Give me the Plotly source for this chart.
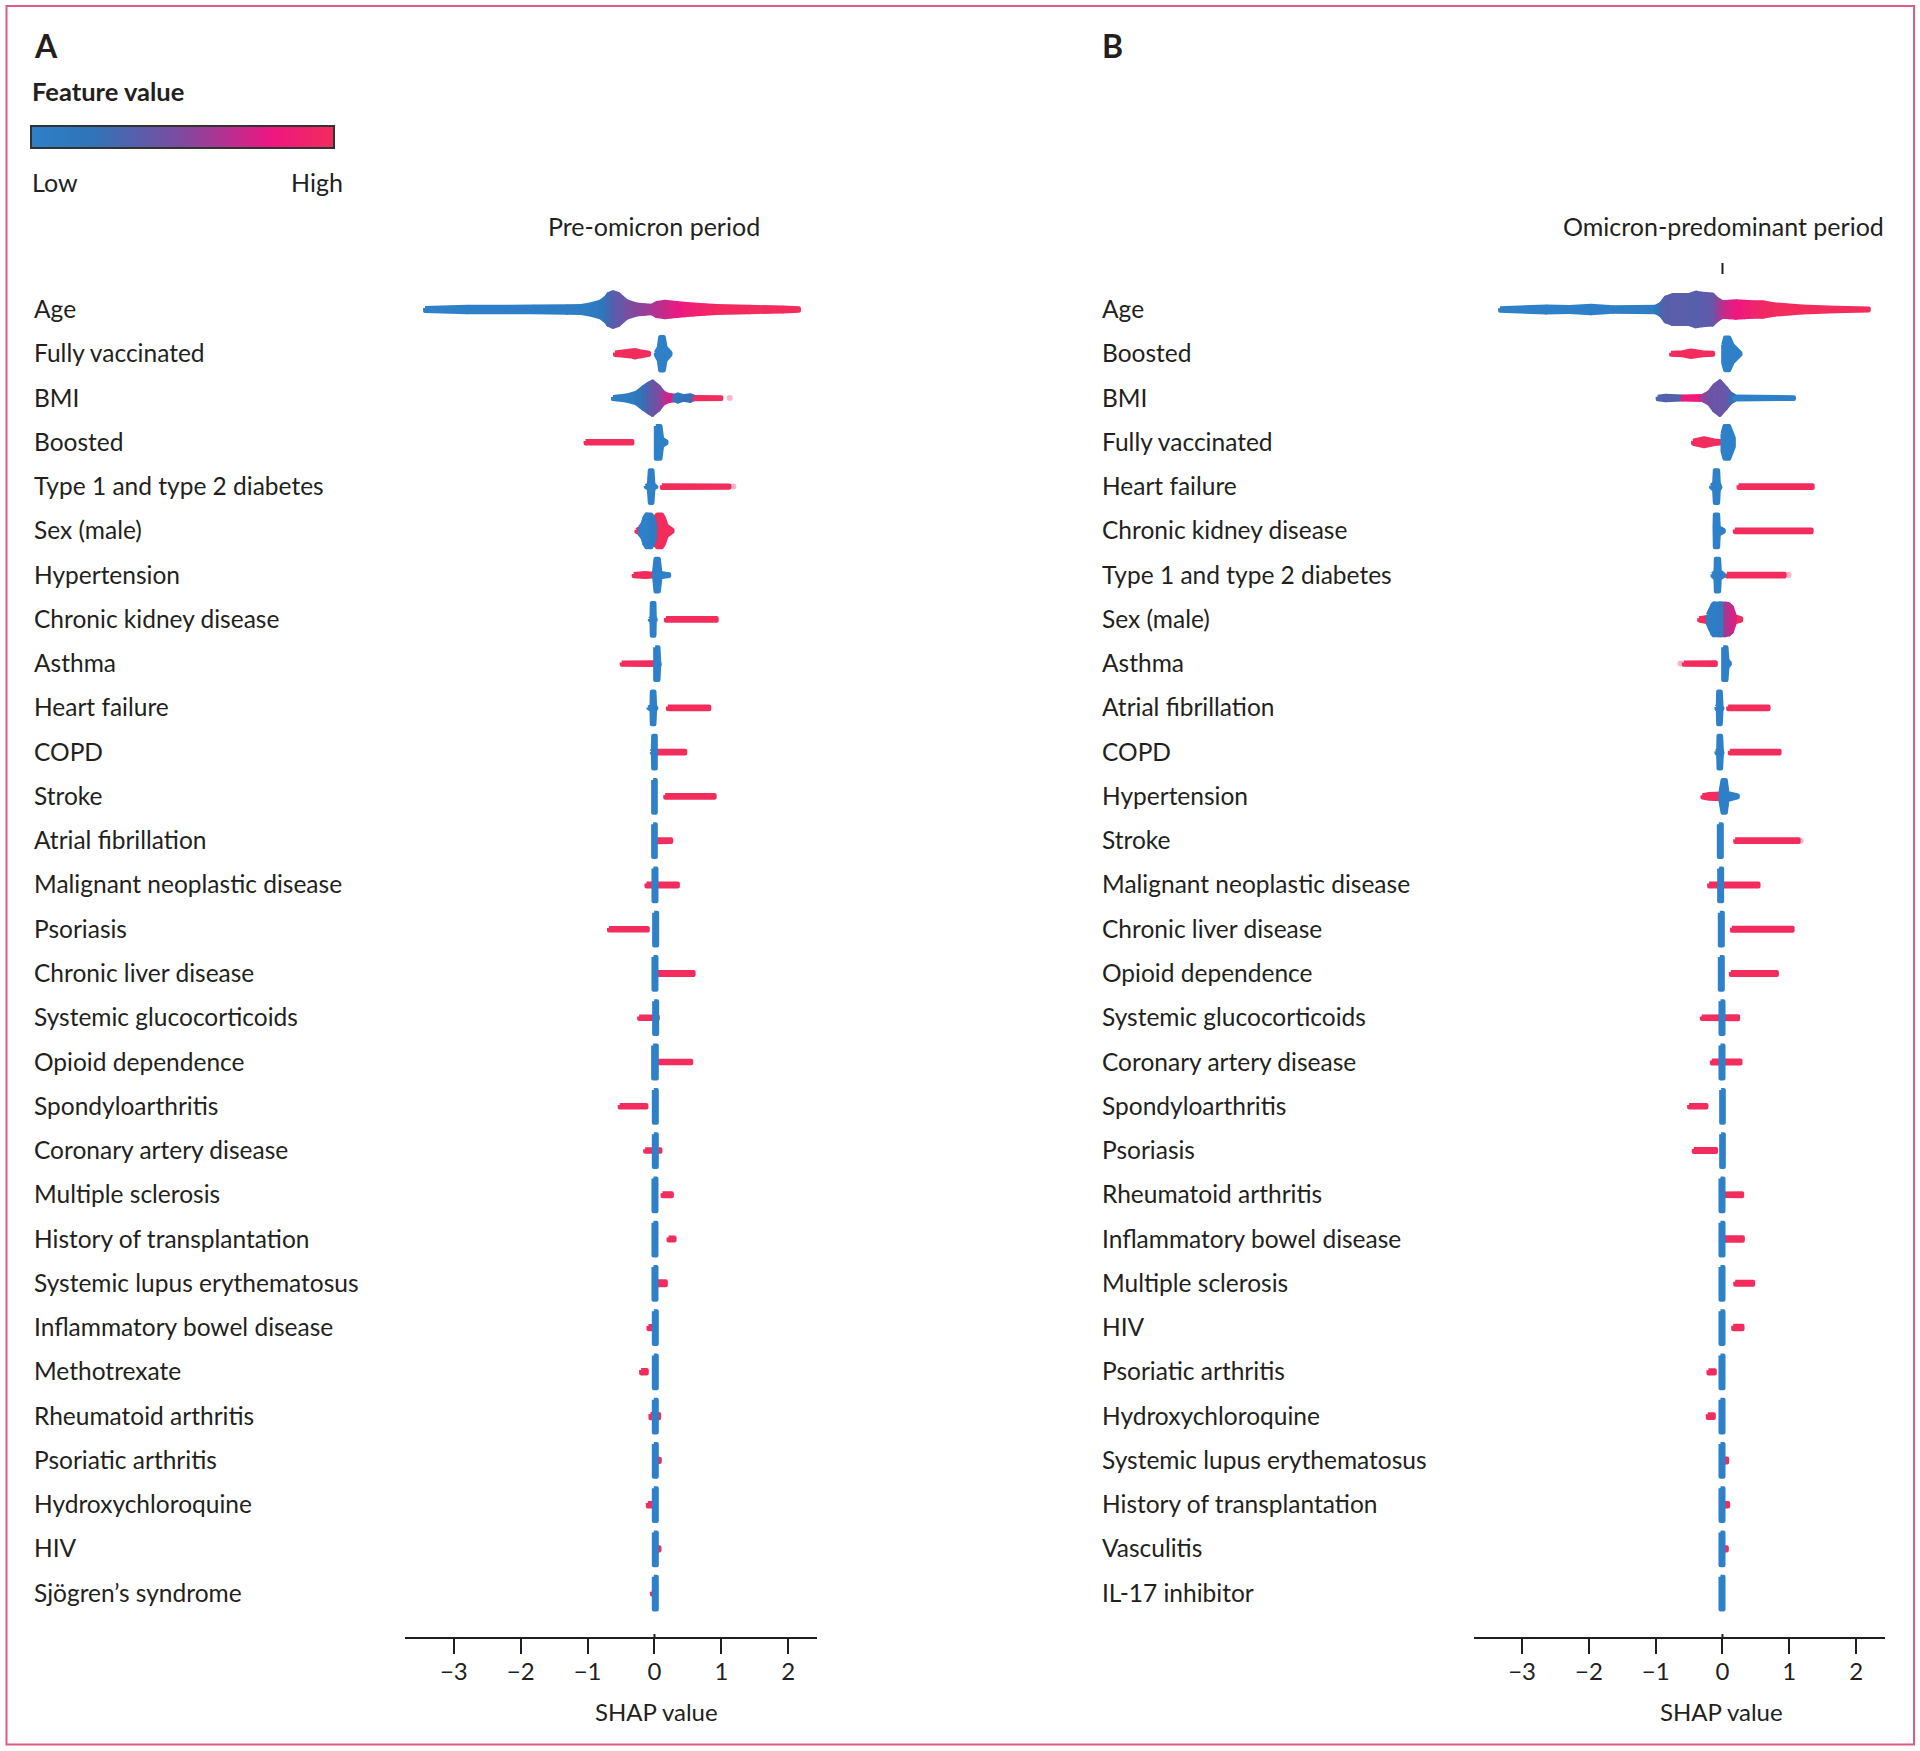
#!/usr/bin/env python3
"""SHAP beeswarm summaries: pre-omicron and omicron-predominant periods."""

import plotly.graph_objects as go
from plotly.colors import sample_colorscale

# Every knot below is (SHAP value, swarm half-height in rows, feature value 0-1),
# read off the picture. A row is a list of stretches, drawn in order.
feature_scale = [[0, "#2e80c8"], [0.2, "#2f74b8"], [0.5, "#7f4a9f"], [0.8, "#ee1780"], [1, "#f22c5c"]]
tick_vals = [-3, -2, -1, 0, 1, 2]
tick_text = ["−3", "−2", "−1", "0", "1", "2"]

features_a = [
    "Age", "Fully vaccinated", "BMI", "Boosted", "Type 1 and type 2 diabetes", "Sex (male)",
    "Hypertension", "Chronic kidney disease", "Asthma", "Heart failure", "COPD", "Stroke",
    "Atrial fibrillation", "Malignant neoplastic disease", "Psoriasis", "Chronic liver disease",
    "Systemic glucocorticoids", "Opioid dependence", "Spondyloarthritis", "Coronary artery disease",
    "Multiple sclerosis", "History of transplantation", "Systemic lupus erythematosus",
    "Inflammatory bowel disease", "Methotrexate", "Rheumatoid arthritis", "Psoriatic arthritis",
    "Hydroxychloroquine", "HIV", "Sjögren’s syndrome",
]

features_b = [
    "Age", "Boosted", "BMI", "Fully vaccinated", "Heart failure", "Chronic kidney disease",
    "Type 1 and type 2 diabetes", "Sex (male)", "Asthma", "Atrial fibrillation", "COPD",
    "Hypertension", "Stroke", "Malignant neoplastic disease", "Chronic liver disease",
    "Opioid dependence", "Systemic glucocorticoids", "Coronary artery disease", "Spondyloarthritis",
    "Psoriasis", "Rheumatoid arthritis", "Inflammatory bowel disease", "Multiple sclerosis", "HIV",
    "Psoriatic arthritis", "Hydroxychloroquine", "Systemic lupus erythematosus",
    "History of transplantation", "Vasculitis", "IL-17 inhibitor",
]

swarm_a = [
    # Age
    [[(-3.43, .035, 0), (-2.8, .06, 0), (-1.81, .065, .02), (-1.31, .075, .03), (-1.1, .08, .04), (-.96, .115, .05),
      (-.81, .175, .12), (-.72, .28, .2), (-.69, .35, .25), (-.62, .39, .32), (-.54, .35, .38), (-.42, .19, .45),
      (-.27, .115, .52), (-.15, .095, .56), (-.04, .085, .6), (.03, .145, .63), (.16, .175, .69),
      (.25, .16, .73), (.33, .145, .77), (.45, .13, .82), (.58, .115, .87), (.75, .095, .92),
      (.93, .08, .97), (1.42, .06, 1), (1.92, .045, 1), (2.16, .03, 1)]],
    # Fully vaccinated
    [[(-.59, .03, 1), (-.5, .04, 1), (-.35, .06, 1), (-.29, .085, 1), (-.22, .06, 1), (-.12, .03, 1), (-.08, .025, 1)],
     [(.02, .03, 0), (.065, .15, 0), (.085, .377, 0), (.14, .377, 0), (.165, .15, 0), (.24, .02, 0)]],
    # BMI
    [[(-.62, .025, .05), (-.42, .055, .05), (-.27, .12, .1), (-.17, .24, .2), (-.09, .325, .3), (-.03, .375, .4),
      (.06, .265, .45), (.13, .13, .55), (.2, .075, .75), (.3, .05, .7)],
     [(.3, .055, .12), (.35, .08, .15), (.43, .04, .2), (.53, .065, .2), (.6, .025, .35)],
     [(.6, .025, 1), (1.0, .02, 1)]],
    # Boosted
    [[(-1.03, .03, 1), (-.33, .03, 1)],
     [(.02, .37, 0), (.09, .37, 0), (.115, .08, 0), (.18, .02, 0)]],
    # Type 1 and type 2 diabetes
    [[(-.13, .01, 0), (-.085, .05, 0), (-.07, .37, 0), (-.03, .37, 0), (-.015, .05, 0), (.03, .01, 0)],
     [(.11, .03, 1), (1.12, .025, 1)]],
    # Sex (male)
    [[(-.27, .02, 1), (-.2, .08, 1)],
     [(.0, .3, 1), (.04, .37, 1), (.11, .37, 1), (.14, .3, 1), (.18, .12, 1), (.27, .02, 1)],
     [(-.22, .08, 0), (-.18, .15, 0), (-.15, .3, 0), (-.12, .37, 0), (-.05, .37, 0), (-.02, .3, .05), (.01, .15, .15)]],
    # Hypertension
    [[(-.31, .025, 1), (-.14, .045, 1), (.02, .025, 1)],
     [(-.01, .03, 0), (.015, .37, 0), (.065, .37, 0), (.09, .05, 0), (.22, .02, 0)]],
    # Chronic kidney disease
    [[(.17, .03, 1), (.93, .03, 1)],
     [(-.07, .01, 0), (-.045, .05, 0), (-.04, .37, 0), (.0, .37, 0), (.005, .05, 0), (.02, .01, 0)]],
    # Asthma
    [[(-.49, .025, 1), (-.02, .03, 1)],
     [(.01, .37, 0), (.06, .37, 0), (.07, .06, 0), (.08, .02, 0)]],
    # Heart failure
    [[(.2, .03, 1), (.82, .03, 1)],
     [(-.09, .01, 0), (-.045, .05, 0), (-.04, .37, 0), (.0, .37, 0), (.01, .05, 0), (.03, .01, 0)]],
    # COPD
    [[(.03, .03, 1), (.46, .03, 1)],
     [(-.05, .01, 0), (-.025, .05, 0), (-.02, .37, 0), (.02, .37, 0)]],
    # Stroke
    [[(.16, .03, 1), (.9, .03, 1)],
     [(-.02, .37, 0), (.02, .37, 0)]],
    # Atrial fibrillation
    [[(.03, .035, 1), (.25, .03, 1)],
     [(-.02, .37, 0), (.02, .37, 0)]],
    # Malignant neoplastic disease
    [[(-.12, .035, 1), (.35, .035, 1)],
     [(-.015, .37, 0), (.03, .37, 0)]],
    # Psoriasis
    [[(-.68, .03, 1), (-.1, .03, 1)],
     [(-.005, .37, 0), (.04, .37, 0)]],
    # Chronic liver disease
    [[(.03, .035, 1), (.585, .035, 1)],
     [(-.015, .37, 0), (.03, .37, 0)]],
    # Systemic glucocorticoids
    [[(-.23, .03, 1), (.05, .03, 1)],
     [(-.005, .37, 0), (.04, .37, 0)]],
    # Opioid dependence
    [[(.03, .03, 1), (.55, .03, 1)],
     [(-.02, .37, 0), (.035, .37, 0)]],
    # Spondyloarthritis
    [[(-.52, .03, 1), (-.12, .03, 1)],
     [(-.01, .37, 0), (.035, .37, 0)]],
    # Coronary artery disease
    [[(-.14, .03, 1), (.09, .03, 1)],
     [(-.01, .37, 0), (.035, .37, 0)]],
    # Multiple sclerosis
    [[(.12, .035, 1), (.26, .035, 1)],
     [(-.015, .37, 0), (.03, .37, 0)]],
    # History of transplantation
    [[(.21, .035, 1), (.3, .035, 1)],
     [(-.015, .37, 0), (.03, .37, 0)]],
    # Systemic lupus erythematosus
    [[(.03, .045, 1), (.17, .045, 1)],
     [(-.015, .37, 0), (.03, .37, 0)]],
    # Inflammatory bowel disease
    [[(-.09, .035, 1), (-.03, .035, 1)],
     [(-.01, .37, 0), (.035, .37, 0)]],
    # Methotrexate
    [[(-.2, .04, 1), (-.115, .04, 1)],
     [(-.01, .37, 0), (.035, .37, 0)]],
    # Rheumatoid arthritis
    [[(-.06, .05, 1), (.07, .05, 1)],
     [(-.01, .37, 0), (.035, .37, 0)]],
    # Psoriatic arthritis
    [[(.03, .035, 1), (.08, .035, 1)],
     [(-.01, .37, 0), (.035, .37, 0)]],
    # Hydroxychloroquine
    [[(-.1, .04, 1), (-.03, .04, 1)],
     [(-.01, .37, 0), (.035, .37, 0)]],
    # HIV
    [[(.03, .035, 1), (.075, .035, 1)],
     [(-.01, .37, 0), (.035, .37, 0)]],
    # Sjögren's syndrome
    [[(-.04, .03, 1), (-.02, .03, 1)],
     [(-.01, .37, 0), (.035, .37, 0)]],
]

swarm_b = [
    # Age
    [[(-3.33, .03, 0), (-2.64, .07, 0), (-2.29, .055, 0), (-1.97, .085, 0), (-1.64, .05, .02),
      (-1.3, .055, .03), (-1.0, .06, .05), (-.92, .13, .28), (-.85, .27, .34), (-.75, .325, .36),
      (-.6, .325, .36), (-.5, .33, .36), (-.4, .38, .34), (-.3, .355, .36), (-.15, .34, .38),
      (-.08, .24, .46), (0, .165, .66), (.1, .175, .72), (.2, .185, .78), (.33, .175, .84),
      (.45, .165, .89), (.6, .165, .95), (.79, .115, 1), (1.19, .07, 1), (1.69, .04, 1), (2.19, .025, 1)]],
    # Boosted
    [[(-.77, .025, 1), (-.6, .035, 1), (-.47, .075, 1), (-.3, .035, 1), (-.14, .025, 1)],
     [(.01, .2, 0), (.04, .37, 0), (.1, .37, 0), (.15, .2, 0), (.27, .02, 0)]],
    # BMI
    [[(-.97, .03, .32), (-.85, .05, .32), (-.6, .035, .35)],
     [(-.6, .035, .88), (-.3, .045, .78)],
     [(-.3, .045, .6), (-.2, .13, .45), (-.125, .28, .42), (-.04, .38, .42), (.05, .23, .42), (.12, .1, .35), (.18, .05, .15)],
     [(.18, .035, 0), (1.07, .02, 0)]],
    # Fully vaccinated
    [[(-.44, .035, 1), (-.275, .09, 1), (-.12, .04, 1), (-.03, .03, 1)],
     [(.0, .2, 0), (.03, .37, 0), (.1, .37, 0), (.17, .1, 0)]],
    # Heart failure
    [[(.24, .03, 1), (1.35, .03, 1)],
     [(-.17, .02, 0), (-.125, .08, 0), (-.115, .37, 0), (-.065, .37, 0), (-.055, .08, 0), (-.03, .02, 0)]],
    # Chronic kidney disease
    [[(.185, .03, 1), (1.335, .03, 1)],
     [(-.12, .08, 0), (-.115, .37, 0), (-.065, .37, 0), (-.055, .08, 0), (.02, .02, 0)]],
    # Type 1 and type 2 diabetes
    [[(.065, .03, 1), (.93, .03, 1)],
     [(-.15, .02, 0), (-.105, .08, 0), (-.1, .37, 0), (-.05, .37, 0), (-.04, .08, 0), (.02, .02, 0)]],
    # Sex (male)
    [[(-.35, .025, 1), (-.24, .06, 1), (-.2, .06, 1)],
     [(.15, .06, 1), (.2, .06, 1), (.28, .025, 1)],
     [(-.05, .36, .55), (.04, .36, .6), (.1, .34, .62), (.14, .28, .66), (.18, .1, .8)],
     [(-.22, .1, .03), (-.19, .2, .03), (-.15, .33, .03), (-.13, .36, .03), (-.07, .36, .05), (-.02, .36, .1)]],
    # Asthma
    [[(-.58, .025, 1), (-.1, .03, 1)],
     [(.01, .37, 0), (.06, .37, 0), (.075, .08, 0), (.11, .02, 0)]],
    # Atrial fibrillation
    [[(.085, .03, 1), (.69, .03, 1)],
     [(-.09, .02, 0), (-.07, .06, 0), (-.065, .37, 0), (-.025, .37, 0), (-.015, .06, 0), (.0, .02, 0)]],
    # COPD
    [[(.11, .03, 1), (.855, .03, 1)],
     [(-.09, .02, 0), (-.065, .06, 0), (-.06, .37, 0), (-.02, .37, 0), (-.01, .06, 0), (.0, .02, 0)]],
    # Hypertension
    [[(-.3, .025, 1), (-.2, .055, 1), (-.02, .065, 1)],
     [(-.03, .1, 0), (.0, .37, 0), (.05, .37, 0), (.075, .08, 0), (.23, .02, 0)]],
    # Stroke
    [[(.19, .03, 1), (1.14, .03, 1)],
     [(-.055, .37, 0), (-.01, .37, 0)]],
    # Malignant neoplastic disease
    [[(-.2, .035, 1), (.54, .035, 1)],
     [(-.05, .37, 0), (-.005, .37, 0)]],
    # Chronic liver disease
    [[(.14, .035, 1), (1.05, .035, 1)],
     [(-.04, .37, 0), (.005, .37, 0)]],
    # Opioid dependence
    [[(.125, .035, 1), (.815, .035, 1)],
     [(-.04, .37, 0), (.005, .37, 0)]],
    # Systemic glucocorticoids
    [[(-.31, .03, 1), (.235, .035, 1)],
     [(-.03, .37, 0), (.015, .37, 0)]],
    # Coronary artery disease
    [[(-.16, .035, 1), (.27, .035, 1)],
     [(-.03, .37, 0), (.015, .37, 0)]],
    # Spondyloarthritis
    [[(-.5, .03, 1), (-.24, .03, 1)],
     [(-.02, .37, 0), (.02, .37, 0)]],
    # Psoriasis
    [[(-.43, .035, 1), (-.095, .035, 1)],
     [(-.02, .37, 0), (.02, .37, 0)]],
    # Rheumatoid arthritis
    [[(.0, .03, 1), (.295, .035, 1)],
     [(-.03, .37, 0), (.015, .37, 0)]],
    # Inflammatory bowel disease
    [[(.02, .04, 1), (.305, .04, 1)],
     [(-.03, .37, 0), (.015, .37, 0)]],
    # Multiple sclerosis
    [[(.19, .035, 1), (.46, .035, 1)],
     [(-.03, .37, 0), (.015, .37, 0)]],
    # HIV
    [[(.16, .04, 1), (.3, .04, 1)],
     [(-.03, .37, 0), (.015, .37, 0)]],
    # Psoriatic arthritis
    [[(-.21, .035, 1), (-.115, .035, 1)],
     [(-.03, .37, 0), (.015, .37, 0)]],
    # Hydroxychloroquine
    [[(-.22, .04, 1), (-.13, .04, 1)],
     [(-.03, .37, 0), (.015, .37, 0)]],
    # Systemic lupus erythematosus
    [[(.02, .045, 1), (.07, .045, 1)],
     [(-.03, .37, 0), (.015, .37, 0)]],
    # History of transplantation
    [[(.03, .04, 1), (.085, .04, 1)],
     [(-.03, .37, 0), (.015, .37, 0)]],
    # Vasculitis
    [[(.03, .035, 1), (.065, .035, 1)],
     [(-.03, .37, 0), (.015, .37, 0)]],
    # IL-17 inhibitor
    [[(-.03, .37, 0), (.015, .37, 0)]],
]

# Fading strays at the end of a row: (row, SHAP value)
strays_a = [(2, 1.125), (4, 1.18)]
strays_b = [(6, .99), (12, 1.17), (8, -.63)]

TEXT = "#231f20"
FONT = "Lato"


def add_stretch(fig, knots, row, xaxis, yaxis):
    """Fill one stretch of a swarm row; colour changes need one polygon per knot pair."""
    colours = {k[2] for k in knots}
    if len(colours) == 1:
        pieces = [knots]
    else:
        pieces = [knots[i:i + 2] for i in range(len(knots) - 1)]
    for piece in pieces:
        value = sum(k[2] for k in piece) / len(piece)
        colour = sample_colorscale(feature_scale, [value])[0]
        xs = [k[0] for k in piece] + [k[0] for k in reversed(piece)]
        ys = [row - k[1] for k in piece] + [row + k[1] for k in reversed(piece)]
        fig.add_trace(go.Scatter(
            x=xs + xs[:1], y=ys + ys[:1], mode="lines", fill="toself", fillcolor=colour,
            line=dict(color=colour, width=4), hoverinfo="skip", showlegend=False,
            xaxis=xaxis, yaxis=yaxis,
        ))


def add_panel(fig, features, swarm, strays, xaxis, yaxis, label_x):
    for row, stretches in enumerate(swarm):
        for knots in stretches:
            add_stretch(fig, knots, row, xaxis, yaxis)
    fig.add_trace(go.Scatter(
        x=[s[1] for s in strays], y=[s[0] for s in strays], mode="markers",
        marker=dict(size=6, color="#f22c5c", opacity=0.35), hoverinfo="skip",
        showlegend=False, xaxis=xaxis, yaxis=yaxis,
    ))
    for row, name in enumerate(features):
        fig.add_annotation(text=name, x=label_x / 1920, xref="paper", y=row, yref=yaxis,
                           xanchor="left", yanchor="middle", showarrow=False, yshift=1,
                           font=dict(size=24.5, family=FONT, color=TEXT))


def note(fig, text, x, y, anchor="left", size=25, bold=False):
    """Free text placed by pixel position."""
    fig.add_annotation(text=f"<b>{text}</b>" if bold else text, x=x / 1920, y=1 - y / 1751,
                       xref="paper", yref="paper", xanchor=anchor, yanchor="middle", yshift=2,
                       showarrow=False, font=dict(size=size, family=FONT, color=TEXT))


fig = go.Figure()
add_panel(fig, features_a, swarm_a, strays_a, "x", "y", 32)
add_panel(fig, features_b, swarm_b, strays_b, "x2", "y2", 1100)

# Feature value legend
fig.add_trace(go.Scatter(
    x=[None, None], y=[None, None], mode="markers", showlegend=False, hoverinfo="skip",
    marker=dict(color=[0, 1], cmin=0, cmax=1, colorscale=feature_scale, showscale=True,
                colorbar=dict(orientation="h", x=31 / 1920, xanchor="left", y=1 - 125.5 / 1751, yanchor="top",
                              lenmode="pixels", len=303, thicknessmode="pixels", thickness=22,
                              xpad=0, ypad=0, outlinewidth=2, outlinecolor="#333333",
                              ticks="", showticklabels=False)),
))

note(fig, "A", 32, 47, size=32, bold=True)
note(fig, "B", 1100, 47, size=32, bold=True)
note(fig, "Feature value", 30, 93, size=25.5, bold=True)
note(fig, "Low", 30, 184)
note(fig, "High", 345, 184, anchor="right")
note(fig, "Pre-omicron period", 654, 228, anchor="center")
note(fig, "Omicron-predominant period", 1723, 228, anchor="center")
note(fig, "SHAP value", 656, 1713, anchor="center", size=24)
note(fig, "SHAP value", 1721, 1713, anchor="center", size=24)

y_range = [29.99, -1.073]
axis_x = dict(showgrid=False, zeroline=False, showline=True, linewidth=2, linecolor=TEXT,
              ticks="outside", ticklen=15, tickwidth=2, tickcolor=TEXT, tickvals=tick_vals, ticktext=tick_text,
              ticklabelstandoff=-3, tickfont=dict(size=24, family=FONT, color=TEXT))
axis_y = dict(range=y_range, visible=False, domain=[1 - 1637 / 1751, 1 - 262 / 1751])

fig.update_layout(
    width=1920, height=1751,
    paper_bgcolor="white", plot_bgcolor="white",
    margin=dict(l=0, r=0, t=0, b=0, autoexpand=False),
    xaxis=dict(axis_x, range=[-3.73, 2.43], domain=[405 / 1920, 817 / 1920], anchor="y"),
    yaxis=dict(axis_y, anchor="x"),
    xaxis2=dict(axis_x, range=[-3.72, 2.433], domain=[1474 / 1920, 1885 / 1920], anchor="y2"),
    yaxis2=dict(axis_y, anchor="x2"),
    shapes=[
        # outer frame
        dict(type="rect", xref="paper", yref="paper", x0=6.5 / 1920, x1=1914 / 1920, y0=1 - 1744.5 / 1751, y1=1 - 6 / 1751,
             line=dict(color="#df5a80", width=2)),
        # short zero tick above panel B
        dict(type="line", xref="x2", x0=0, x1=0, yref="paper", y0=1 - 274 / 1751, y1=1 - 263 / 1751,
             line=dict(color=TEXT, width=2)),
        # zero ticks poke through the axis lines
        dict(type="line", xref="x", x0=0, x1=0, yref="paper", y0=1 - 1637 / 1751, y1=1 - 1634 / 1751,
             line=dict(color=TEXT, width=2)),
        dict(type="line", xref="x2", x0=0, x1=0, yref="paper", y0=1 - 1637 / 1751, y1=1 - 1634 / 1751,
             line=dict(color=TEXT, width=2)),
    ],
)

# swarm silhouettes are rounded like the dots they stand for
round_joins = """
document.body.style.margin = '0';
var st = document.createElement('style');
st.textContent = '.scatterlayer .js-line {stroke-linejoin: round !important;}';
document.head.appendChild(st);
"""
fig.write_html("out.html", config=dict(displayModeBar=False), post_script=round_joins)
